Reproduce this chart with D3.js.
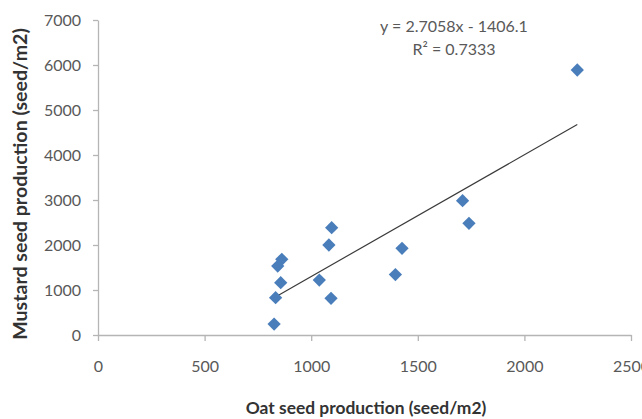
<!DOCTYPE html>
<html>
<head>
<meta charset="utf-8">
<script src="https://cdn.jsdelivr.net/npm/d3@7"></script>
<style>
    body { margin: 0; background: #fff; }
    svg { display: block; }
</style>
</head>
<body>
<div id="chart"></div>
<script>
    // values
    var oatSeed     = [826, 833, 857, 843, 862, 1038, 1093, 1083, 1096, 1395, 1426, 1710, 1740, 2248];
    var mustardSeed = [244, 829, 1162, 1533, 1682, 1222, 815, 2000, 2385, 1344, 1926, 2985, 2482, 5889];
    var xTicks = [0, 500, 1000, 1500, 2000, 2500];
    var yTicks = [0, 1000, 2000, 3000, 4000, 5000, 6000, 7000];
    var slope = 2.7058,
        intercept = -1406.1;
    var eqLabels = ["y = 2.7058x - 1406.1", "R² = 0.7333"];

    var data = oatSeed.map(function (d, i) {
        return {oat: d, mustard: mustardSeed[i]};
    });

    var o = {
        v: 642,
        h: 419,
        font: "Lato, 'Open Sans', sans-serif",
        axisColor: "#b5b5b5",
        textColor: "#595959",
        titleColor: "#333"
    };

    var svg = d3.select("#chart").append("svg")
        .attr("width", o.v)
        .attr("height", o.h);

    var x = d3.scaleLinear()
            .domain([0, 2500])
            .range([98, 631]),
        y = d3.scaleLinear()
            .domain([0, 7000])
            .range([335, 20]);

    var xAxis = d3.axisBottom(x).tickValues(xTicks).tickSize(6).tickSizeOuter(0).tickPadding(20).tickFormat(d3.format("d")),
        yAxis = d3.axisLeft(y).tickValues(yTicks).tickSize(5).tickSizeOuter(0).tickPadding(12).tickFormat(d3.format("d"));

    var gx = svg.append("g")
        .attr("transform", "translate(0," + y(0) + ")")
        .call(xAxis);
    var gy = svg.append("g")
        .attr("transform", "translate(" + x(0) + ",0)")
        .call(yAxis);

    [gx, gy].forEach(function (g) {
        g.selectAll("path, line").attr("stroke", o.axisColor).attr("stroke-width", 1.3);
        g.selectAll("text")
            .attr("fill", o.textColor)
            .style("font-family", o.font)
            .style("font-size", "16px");
    });

    // trendline over the range of the data
    var ext = d3.extent(oatSeed);
    var line = d3.line()
        .x(function (d) { return x(d); })
        .y(function (d) { return y(slope * d + intercept); });

    svg.append("path")
        .datum(ext)
        .attr("d", line)
        .attr("fill", "none")
        .attr("stroke", "#3a3a3a")
        .attr("stroke-width", 1.2);

    svg.append("g")
        .selectAll("path")
        .data(data)
        .enter()
        .append("path")
        .attr("d", d3.symbol().type(d3.symbolSquare).size(88))
        .attr("transform", function (d) {
            return "translate(" + x(d.oat) + "," + y(d.mustard) + ") rotate(45)";
        })
        .attr("fill", "#4a7ebb");

    // equation label
    svg.append("g")
        .selectAll("text")
        .data(eqLabels)
        .enter()
        .append("text")
        .attr("x", 454)
        .attr("y", function (d, i) { return 32 + i * 23; })
        .attr("text-anchor", "middle")
        .attr("fill", o.textColor)
        .style("font-family", o.font)
        .style("font-size", "16px")
        .text(function (d) { return d; });

    // axis titles
    svg.append("text")
        .attr("x", 366)
        .attr("y", 414)
        .attr("text-anchor", "middle")
        .attr("fill", o.titleColor)
        .style("font-family", o.font)
        .style("font-weight", "bold")
        .style("font-size", "17.4px")
        .text("Oat seed production (seed/m2)");

    svg.append("text")
        .attr("transform", "translate(27,184) rotate(-90)")
        .attr("text-anchor", "middle")
        .attr("fill", o.titleColor)
        .style("font-family", o.font)
        .style("font-weight", "bold")
        .style("font-size", "19.6px")
        .text("Mustard seed production (seed/m2)");
</script>
</body>
</html>
